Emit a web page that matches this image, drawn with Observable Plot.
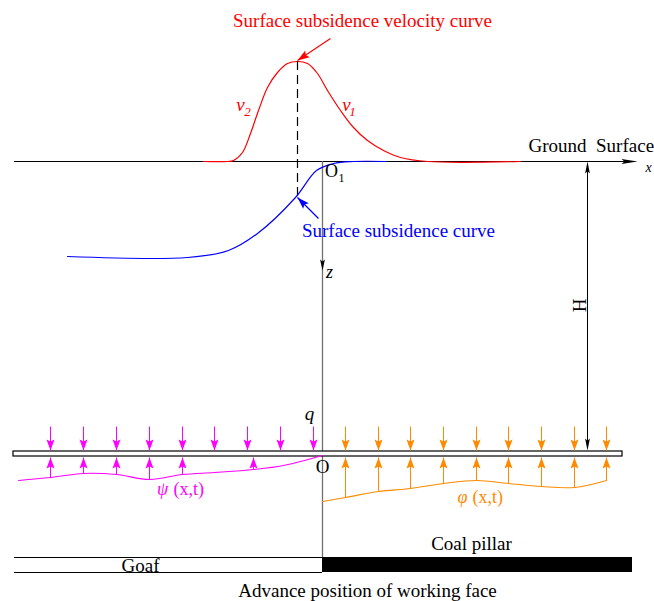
<!DOCTYPE html>
<html><head><meta charset="utf-8">
<script src="https://cdn.jsdelivr.net/npm/d3@7"></script>
<script src="https://cdn.jsdelivr.net/npm/@observablehq/plot@0.6"></script>
<style>body{margin:0;background:#fff;overflow:hidden} #chart svg{display:block}</style>
</head><body><div id="chart"></div>
<script>
// Diagram units: x = horizontal distance from O1 (working face), z = depth below ground surface
const velocityX = [-119,-95,-89,-80,-72,-64,-55,-45,-35,-25,-15,-5,5,18,31,45,61,78,105,198];
const velocityZ = [0,0,-1,-9,-28,-51,-74,-89,-98,-100,-98,-88,-71,-51,-34,-21,-11,-4,0,0];
const subsidenceX = [-255,-135,-94,-65,-27,-6,11,31,63];
const subsidenceZ = [95,96,89,72,36,9,2,0,0];
const psiX = [-304,-272,-239,-206,-173,-140,-108,-69,-39,0];
const psiZ = [319,316,312,313,318,313,311,308,304,294];
const phiX = [0,23,56,88,121,154,186,219,252,284];
const phiZ = [340,336,330,327,322,319,322,325,326,319];
const loadLeftX = [-272,-239,-206,-173,-140,-108,-75,-42,-9];
const loadRightX = [23,56,88,121,154,186,219,252,284];
const supportLeftX = [-272,-239,-206,-173,-140,-69];
const supportRightX = [23,56,88,121,154,186,219,252,284];
const groundZ = 0, seamTop = 290, seamBottom = 295, loadTop = 265, floorTop = 396, floorBottom = 411;
const groundX = [-308, 315], seamX = [-309, 300], goafX = [-308, 0], pillarX = [0, 310];
const peakX = -25, peakZ = -100, dashEndZ = 37, depthLineX = 265;
const redArrow = {x1: 8, z1: -123, x2: -25, z2: -101};
const blueArrow = {x1: -4, z1: 57, x2: -25, z2: 36};
const centerLabels = [
  {x: 40, z: -141, t: "Surface subsidence velocity curve", c: "#ff0000", s: 19},
  {x: 76, z: 69, t: "Surface subsidence curve", c: "#0000ff", s: 19},
  {x: 0, z: 305, t: "O", c: "#000", s: 19},
  {x: 9, z: 10, t: "O", c: "#000", s: 18},
  {x: 19, z: 17, t: "1", c: "#000", s: 12},
  {x: 149, z: 382, t: "Coal pillar", c: "#000", s: 19},
  {x: -182, z: 404, t: "Goaf", c: "#000", s: 19},
  {x: 45, z: 429, t: "Advance position of working face", c: "#000", s: 19}
];
const startLabels = [
  {x: 206, z: -16, t: "Ground\u00a0\u00a0Surface", c: "#000", s: 19},
  {x: -149, z: 328, t: "(x,t)", c: "#ff00ff", s: 18},
  {x: 150, z: 336, t: "(x,t)", c: "#ff8a00", s: 18}
];
const italicLabels = [
  {x: -82, z: -57, t: "v", c: "#ff0000", s: 19},
  {x: -75, z: -50, t: "2", c: "#ff0000", s: 13},
  {x: 24, z: -57, t: "v", c: "#ff0000", s: 19},
  {x: 30, z: -50, t: "1", c: "#ff0000", s: 13},
  {x: 7, z: 111, t: "z", c: "#000", s: 18},
  {x: -13, z: 252, t: "q", c: "#000", s: 19},
  {x: -160, z: 328, t: "ψ", c: "#ff00ff", s: 18},
  {x: 140, z: 336, t: "φ", c: "#ff8a00", s: 18},
  {x: 326, z: 6, t: "x", c: "#000", s: 14}
];

const pts = (X, Z) => X.map((x, i) => ({x, z: Z[i]}));
const zAt = (X, Z, x) => Z[X.indexOf(x)];
function head(L, w) {
  return {draw(ctx) { ctx.moveTo(0, 0); ctx.lineTo(-w, L); ctx.lineTo(0, L * 0.82); ctx.lineTo(w, L); ctx.closePath(); }};
}
const ang = (a) => Math.atan2(a.x2 - a.x1, -(a.z2 - a.z1)) * 180 / Math.PI;
const font = "Liberation Serif, Times New Roman, serif";
const MAG = "#ff00ff", ORA = "#ff8a00";

const loadL = loadLeftX.map(x => ({x, z1: loadTop, z2: seamTop - 1}));
const loadR = loadRightX.map(x => ({x, z1: loadTop, z2: seamTop - 1}));
const supL = supportLeftX.map(x => ({x, z1: zAt(psiX, psiZ, x), z2: seamBottom + 1}));
const supR = supportRightX.map(x => ({x, z1: zAt(phiX, phiZ, x), z2: seamBottom + 1}));

const chart = Plot.plot({
  width: 654, height: 601, margin: 0,
  x: {domain: [-322, 332], range: [0, 654], axis: null},
  y: {domain: [-161, 440], range: [0, 601], axis: null},
  style: {background: "#fff", fontFamily: font},
  marks: [
    Plot.ruleY([groundZ], {x1: groundX[0], x2: groundX[1] - 8, stroke: "#000", strokeWidth: 1}),
    Plot.dot([{x: groundX[1], z: groundZ}], {x: "x", y: "z", symbol: head(16, 2.6), r: 1, fill: "#000", stroke: "none", rotate: 90}),
    Plot.ruleX([0], {y1: groundZ, y2: floorTop, stroke: "#707070", strokeWidth: 1.3}),
    Plot.dot([{x: 0, z: 109}], {x: "x", y: "z", symbol: head(11, 2.4), r: 1, fill: "#000", stroke: "none", rotate: 180}),
    Plot.ruleX([depthLineX], {y1: groundZ + 8, y2: seamTop - 8, stroke: "#000", strokeWidth: 1}),
    Plot.dot([{x: depthLineX, z: groundZ, r: 0}, {x: depthLineX, z: seamTop - 1, r: 180}], {x: "x", y: "z", symbol: head(12, 2.4), r: 1, fill: "#000", stroke: "none", rotate: "r"}),
    Plot.text(["H"], {x: depthLineX - 8, y: 144, fontSize: 19, rotate: -90, fill: "#000", fontFamily: font}),
    Plot.line(pts(velocityX, velocityZ), {x: "x", y: "z", stroke: "#ff0000", strokeWidth: 1.2, curve: "catmull-rom"}),
    Plot.ruleX([peakX], {y1: peakZ, y2: dashEndZ, stroke: "#000", strokeWidth: 1.2, strokeDasharray: "9,5"}),
    Plot.line(pts(subsidenceX, subsidenceZ), {x: "x", y: "z", stroke: "#0000ff", strokeWidth: 1.2, curve: "catmull-rom"}),
    Plot.link([redArrow], {x1: "x1", y1: "z1", x2: "x2", y2: "z2", stroke: "#ff0000", strokeWidth: 1.2}),
    Plot.dot([redArrow], {x: "x2", y: "z2", symbol: head(12, 4), r: 1, fill: "#ff0000", stroke: "none", rotate: ang(redArrow)}),
    Plot.link([blueArrow], {x1: "x1", y1: "z1", x2: "x2", y2: "z2", stroke: "#0000ff", strokeWidth: 1.2}),
    Plot.dot([blueArrow], {x: "x2", y: "z2", symbol: head(12, 4), r: 1, fill: "#0000ff", stroke: "none", rotate: ang(blueArrow)}),
    Plot.rect([{x1: seamX[0], x2: seamX[1], y1: seamTop, y2: seamBottom}], {x1: "x1", x2: "x2", y1: "y1", y2: "y2", fill: "#fff", stroke: "#000", strokeWidth: 1.2}),
    Plot.link(loadL, {x1: "x", x2: "x", y1: "z1", y2: "z2", stroke: MAG, strokeWidth: 1}),
    Plot.dot(loadL, {x: "x", y: "z2", symbol: head(11, 4), r: 1, fill: MAG, stroke: "none", rotate: 180}),
    Plot.link(loadR, {x1: "x", x2: "x", y1: "z1", y2: "z2", stroke: ORA, strokeWidth: 1}),
    Plot.dot(loadR, {x: "x", y: "z2", symbol: head(11, 4), r: 1, fill: ORA, stroke: "none", rotate: 180}),
    Plot.line(pts(psiX, psiZ), {x: "x", y: "z", stroke: MAG, strokeWidth: 1.1, curve: "catmull-rom"}),
    Plot.link(supL, {x1: "x", x2: "x", y1: "z1", y2: "z2", stroke: MAG, strokeWidth: 1}),
    Plot.dot(supL, {x: "x", y: "z2", symbol: head(11, 4), r: 1, fill: MAG, stroke: "none", rotate: 0}),
    Plot.line(pts(phiX, phiZ), {x: "x", y: "z", stroke: ORA, strokeWidth: 1.1, curve: "catmull-rom"}),
    Plot.link(supR, {x1: "x", x2: "x", y1: "z1", y2: "z2", stroke: ORA, strokeWidth: 1}),
    Plot.dot(supR, {x: "x", y: "z2", symbol: head(11, 4), r: 1, fill: ORA, stroke: "none", rotate: 0}),
    Plot.ruleY([floorTop, floorBottom], {x1: goafX[0], x2: goafX[1], stroke: "#000", strokeWidth: 1}),
    Plot.rect([{x1: pillarX[0], x2: pillarX[1], y1: floorTop, y2: floorBottom}], {x1: "x1", x2: "x2", y1: "y1", y2: "y2", fill: "#000"}),
    Plot.text(centerLabels, {x: "x", y: "z", text: "t", fill: "c", textAnchor: "middle", fontSize: "s", fontFamily: font}),
    Plot.text(startLabels, {x: "x", y: "z", text: "t", fill: "c", textAnchor: "start", fontSize: "s", fontFamily: font}),
    Plot.text(italicLabels, {x: "x", y: "z", text: "t", fill: "c", fontSize: "s", fontStyle: "italic", fontFamily: font})
  ]
});
document.getElementById("chart").append(chart);
</script>
</body></html>
